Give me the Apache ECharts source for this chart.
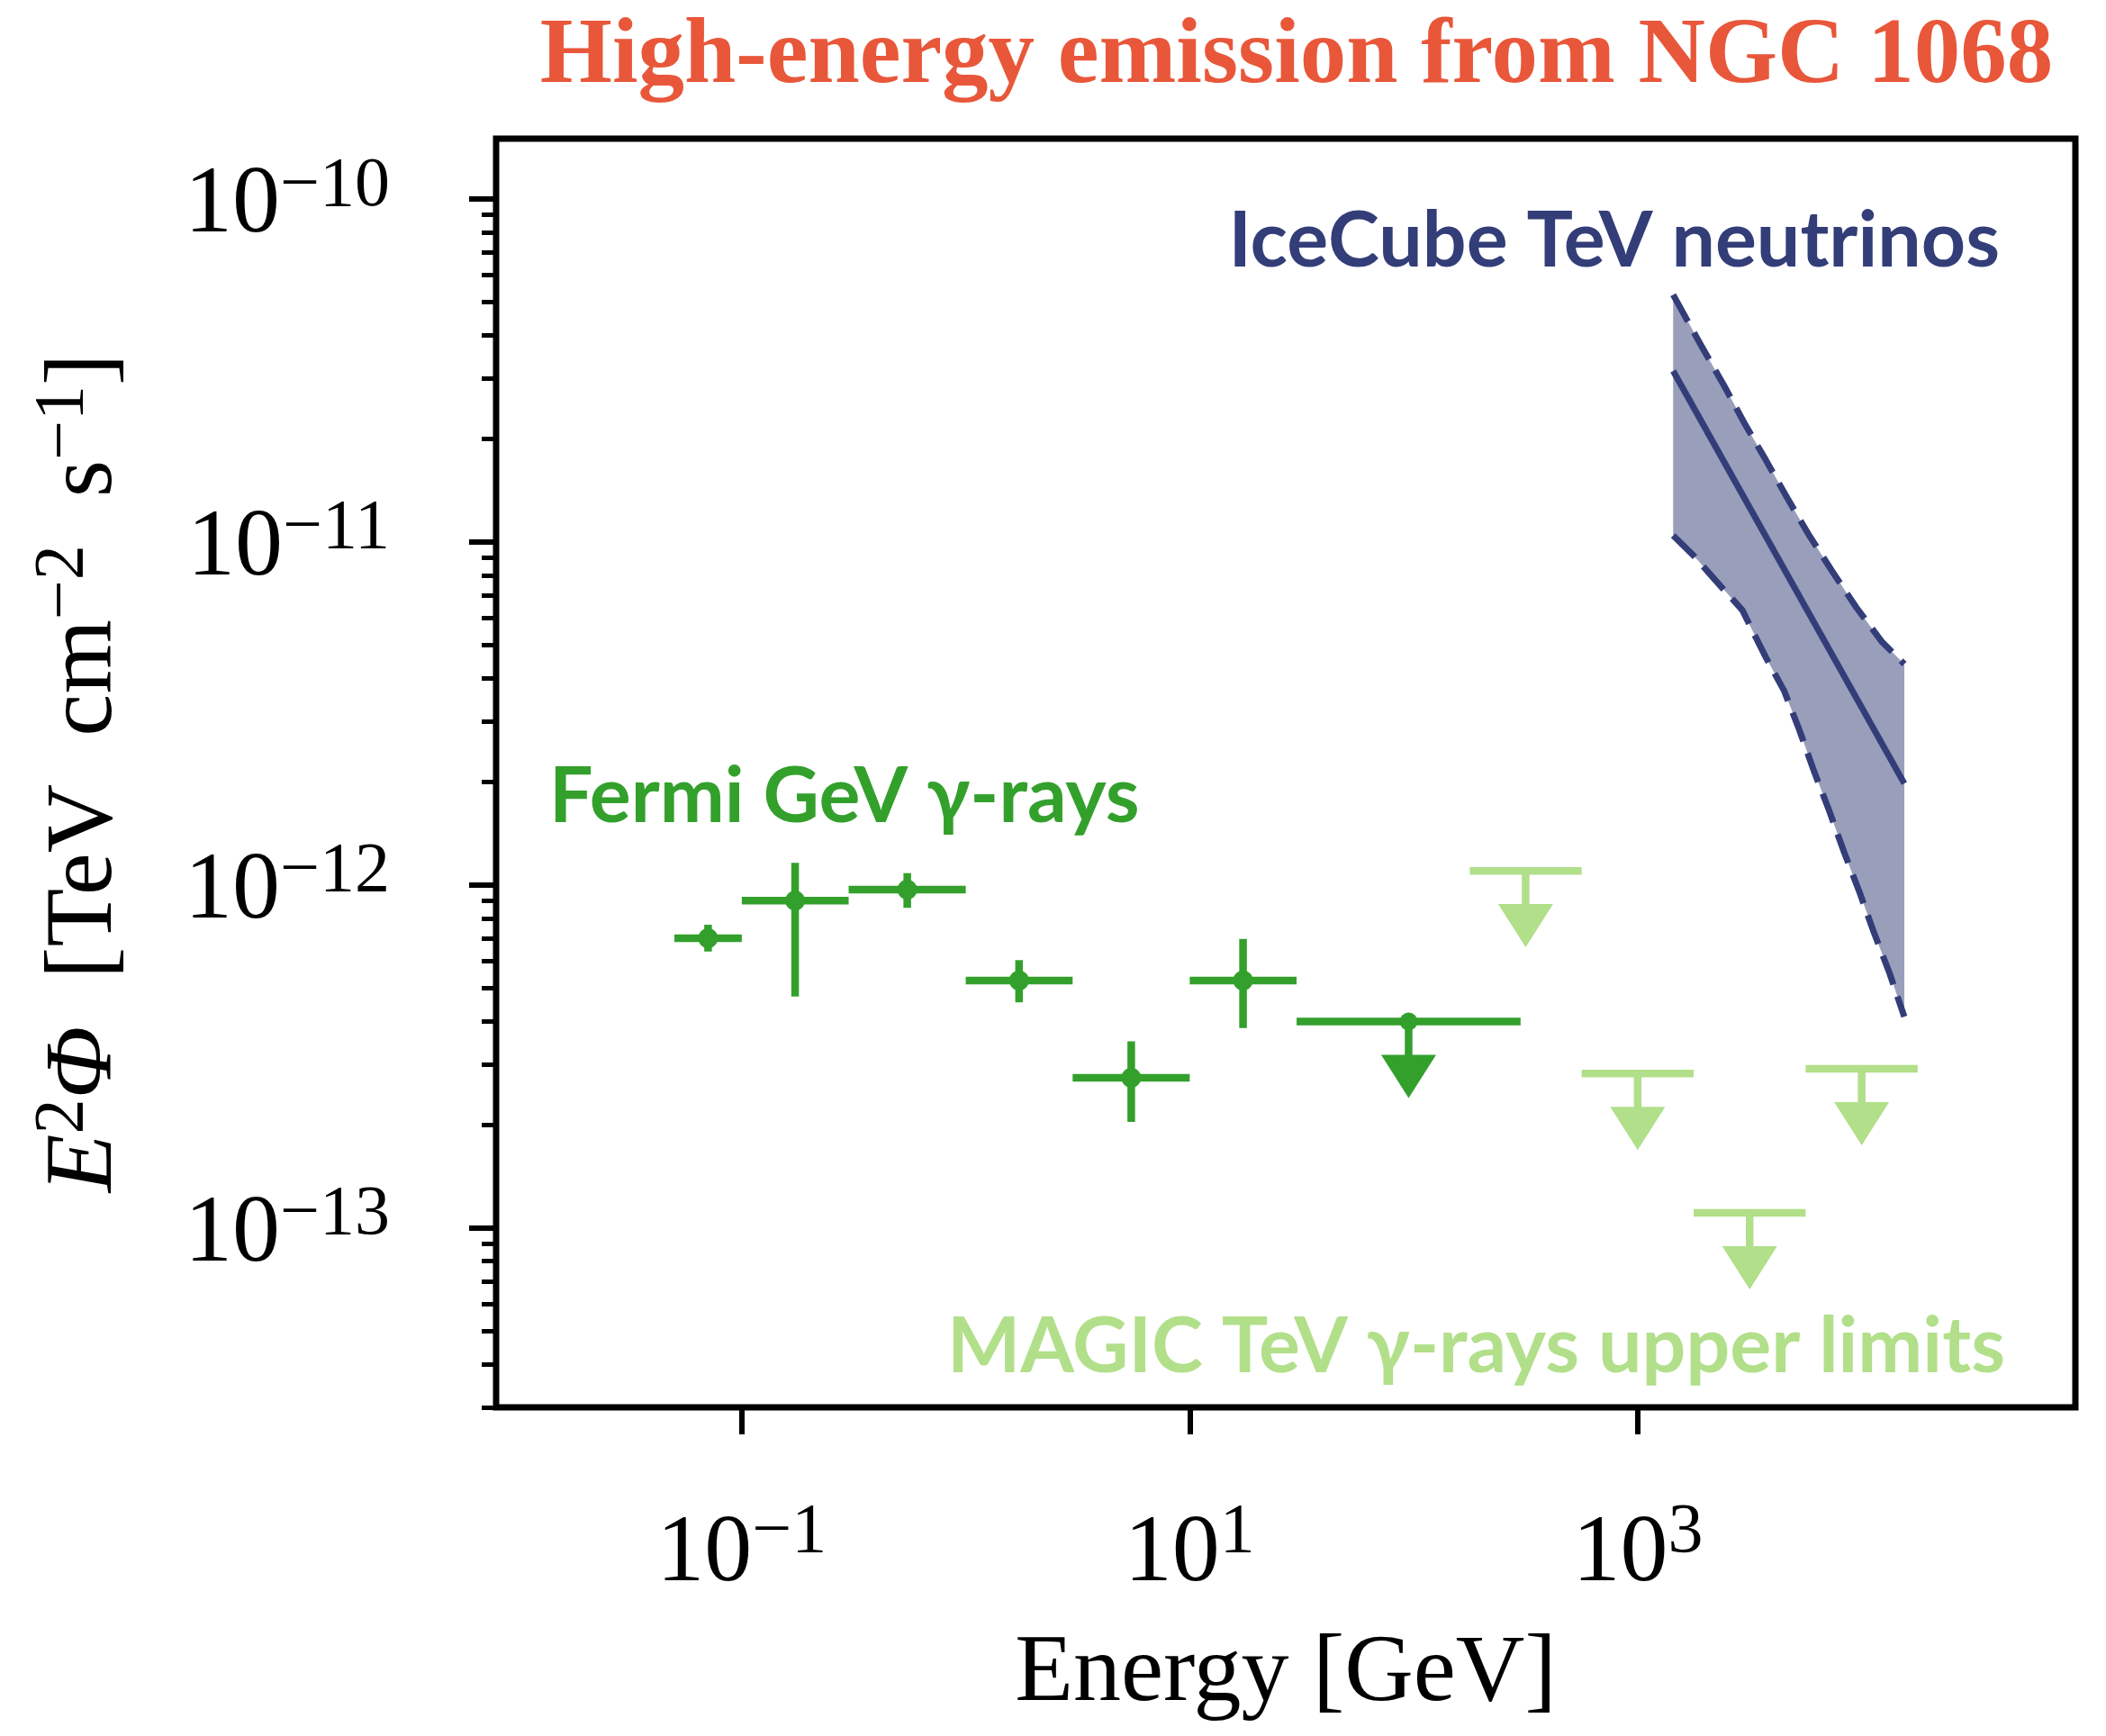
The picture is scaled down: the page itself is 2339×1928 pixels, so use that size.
<!DOCTYPE html>
<html>
<head>
<meta charset="utf-8">
<script src="https://cdn.jsdelivr.net/npm/echarts@6/dist/echarts.min.js"></script>
<style>
  html, body { margin: 0; padding: 0; background: #ffffff; }
  #chart { width: 2339px; height: 1928px; }
</style>
</head>
<body>
<div id="chart"></div>
<script>
// ---- Fermi-LAT GeV gamma-ray points: energy bins in GeV, E^2 flux in TeV cm^-2 s^-1
const fermiEnergy     = [0.0707, 0.173, 0.548, 1.73, 5.48, 17.3];
const fermiEnergyLow  = [0.05, 0.1, 0.3, 1, 3, 10];
const fermiEnergyHigh = [0.1, 0.3, 1, 3, 10, 30];
const fermiFlux       = [7.0e-13, 9.0e-13, 9.7e-13, 5.27e-13, 2.74e-13, 5.27e-13];
const fermiFluxLow    = [6.4e-13, 4.73e-13, 8.58e-13, 4.55e-13, 2.04e-13, 3.83e-13];
const fermiFluxHigh   = [7.66e-13, 1.16e-12, 1.083e-12, 6.04e-13, 3.5e-13, 6.97e-13];

// ---- Fermi-LAT upper limit in the last bin
const fermiLimitEnergy     = [94.9];
const fermiLimitEnergyLow  = [30];
const fermiLimitEnergyHigh = [300];
const fermiLimitFlux       = [4.0e-13];

// ---- MAGIC TeV gamma-ray upper limits
const magicEnergy     = [316, 1000, 3162, 10000];
const magicEnergyLow  = [178, 562, 1778, 5623];
const magicEnergyHigh = [562, 1778, 5623, 17783];
const magicFlux       = [1.10e-12, 2.82e-13, 1.107e-13, 2.91e-13];

// arrow shaft of an upper limit reaches down to (1 - drop) x limit
const upperLimitDrop = 0.2;

// ---- IceCube neutrino spectrum: best fit and the edges of its uncertainty band
const icecubeBestEnergy  = [1440, 15500];
const icecubeBestFlux    = [3.155e-11, 1.977e-12];
const icecubeUpperEnergy = [1440, 1903, 2437, 3020, 3748, 4653, 5771, 7385, 9443, 12280, 15500];
const icecubeUpperFlux   = [5.26e-11, 3.78e-11, 2.85e-11, 2.20e-11, 1.727e-11, 1.344e-11,
                            1.057e-11, 8.22e-12, 6.46e-12, 5.13e-12, 4.41e-12];
const icecubeLowerEnergy = [1440, 1789, 2222, 2932, 3166, 3748, 4510, 5262, 6139, 7155,
                            8350, 9743, 11360, 13260, 15500];
const icecubeLowerFlux   = [1.045e-11, 9.09e-12, 7.74e-12, 6.33e-12, 5.72e-12, 4.59e-12,
                            3.68e-12, 2.84e-12, 2.14e-12, 1.65e-12, 1.246e-12, 9.6e-13,
                            7.25e-13, 5.58e-13, 4.13e-13];

// ---- axis ranges and decade ticks
const energyRange = [8e-3, 9e4];
const fluxRange   = [3e-14, 1.5e-10];
const energyTickExponents = [-1, 1, 3];
const fluxTickExponents   = [-13, -12, -11, -10];

// ---------------------------------------------------------------------------
const lg = Math.log10;
const GREEN = '#33a02c';
const LIGHT_GREEN = '#b2df8a';
const NAVY = '#333d78';
const SERIF = '"Liberation Serif", "DejaVu Serif", serif';
const SANS = 'Lato, "Open Sans", sans-serif';
const BAR_WIDTH = 8.5;
const EN_SPACE = '\u2002';

// minor ticks at 2..9 x 10^n inside the flux range
const fluxMinorTicks = [];
for (let n = -15; n <= -10; n++) {
  for (let k = 2; k <= 9; k++) {
    const v = lg(k) + n;
    if (v >= lg(fluxRange[0]) - 1e-9 && v <= lg(fluxRange[1])) fluxMinorTicks.push(v);
  }
}

const supLabel = function (v) {
  const e = Math.round(v);
  return '{b|10}{s|' + (e < 0 ? '\u2212' + Math.abs(e) : String(e)) + '}';
};
const xTickRich = {
  b: { fontFamily: SERIF, fontSize: 106, lineHeight: 126, color: '#000' },
  s: { fontFamily: SERIF, fontSize: 78, lineHeight: 70, verticalAlign: 'top', color: '#000' }
};
const yTickRich = {
  b: { fontFamily: SERIF, fontSize: 106, lineHeight: 126, padding: [16, 0, 0, 0], color: '#000' },
  s: { fontFamily: SERIF, fontSize: 78, lineHeight: 70, padding: [10, 0, 0, 0], verticalAlign: 'top', color: '#000' }
};

const fermiData = fermiEnergy.map((e, i) => [
  lg(e), lg(fermiFlux[i]), lg(fermiEnergyLow[i]), lg(fermiEnergyHigh[i]),
  lg(fermiFluxLow[i]), lg(fermiFluxHigh[i])
]);
const fermiLimitData = fermiLimitEnergy.map((e, i) => [
  lg(e), lg(fermiLimitFlux[i]), lg(fermiLimitEnergyLow[i]), lg(fermiLimitEnergyHigh[i]),
  lg(fermiLimitFlux[i] * (1 - upperLimitDrop))
]);
const magicData = magicEnergy.map((e, i) => [
  lg(e), lg(magicFlux[i]), lg(magicEnergyLow[i]), lg(magicEnergyHigh[i]),
  lg(magicFlux[i] * (1 - upperLimitDrop))
]);
const toPairs = (xs, ys) => xs.map((x, i) => [lg(x), lg(ys[i])]);

function renderErrorPoint(params, api) {
  const c  = api.coord([api.value(0), api.value(1)]);
  const l  = api.coord([api.value(2), api.value(1)]);
  const r  = api.coord([api.value(3), api.value(1)]);
  const lo = api.coord([api.value(0), api.value(4)]);
  const hi = api.coord([api.value(0), api.value(5)]);
  const st = { stroke: GREEN, lineWidth: BAR_WIDTH, lineCap: 'butt' };
  return {
    type: 'group',
    children: [
      { type: 'line', shape: { x1: l[0], y1: l[1], x2: r[0], y2: r[1] }, style: st },
      { type: 'line', shape: { x1: lo[0], y1: lo[1], x2: hi[0], y2: hi[1] }, style: st },
      { type: 'circle', shape: { cx: c[0], cy: c[1], r: 11 }, style: { fill: GREEN } }
    ]
  };
}

function makeLimitRenderer(color, withDot) {
  return function (params, api) {
    const c = api.coord([api.value(0), api.value(1)]);
    const l = api.coord([api.value(2), api.value(1)]);
    const r = api.coord([api.value(3), api.value(1)]);
    const b = api.coord([api.value(0), api.value(4)]);
    const st = { stroke: color, lineWidth: BAR_WIDTH, lineCap: 'butt' };
    const headW = 61, headH = 48;
    const children = [
      { type: 'line', shape: { x1: l[0], y1: l[1], x2: r[0], y2: r[1] }, style: st },
      { type: 'line', shape: { x1: c[0], y1: c[1], x2: b[0], y2: b[1] + 2 }, style: st },
      { type: 'polygon',
        shape: { points: [[b[0] - headW / 2, b[1]], [b[0] + headW / 2, b[1]], [b[0], b[1] + headH]] },
        style: { fill: color } }
    ];
    if (withDot) {
      children.push({ type: 'circle', shape: { cx: c[0], cy: c[1], r: 10 }, style: { fill: color } });
    }
    return { type: 'group', children: children };
  };
}

const upperPairs = toPairs(icecubeUpperEnergy, icecubeUpperFlux);
const lowerPairs = toPairs(icecubeLowerEnergy, icecubeLowerFlux);

function renderBand(params, api) {
  if (params.dataIndex !== 0) return null;
  const pts = upperPairs.map(p => api.coord(p))
    .concat(lowerPairs.slice().reverse().map(p => api.coord(p)));
  return { type: 'polygon', shape: { points: pts }, style: { fill: 'rgba(51,61,120,0.5)' } };
}

const chart = echarts.init(document.getElementById('chart'), null, { renderer: 'canvas' });

chart.setOption({
  animation: false,
  backgroundColor: '#ffffff',
  grid: {
    left: 551, right: 34, top: 154, bottom: 360,
    show: true, borderColor: '#000', borderWidth: 7, backgroundColor: 'transparent'
  },
  xAxis: {
    type: 'value',
    min: lg(energyRange[0]), max: lg(energyRange[1]),
    axisLine: { show: false, onZero: false },
    splitLine: { show: false },
    axisTick: { show: true, inside: false, length: 30, customValues: energyTickExponents,
                lineStyle: { color: '#000', width: 6 } },
    axisLabel: { customValues: energyTickExponents, margin: 101, formatter: supLabel, rich: xTickRich },
    name: 'Energy [GeV]',
    nameLocation: 'middle',
    nameGap: 234,
    nameTextStyle: { fontFamily: SERIF, fontSize: 106, lineHeight: 126, color: '#000' }
  },
  yAxis: [
    {
      type: 'value',
      position: 'left',
      min: lg(fluxRange[0]), max: lg(fluxRange[1]),
      axisLine: { show: false, onZero: false },
      splitLine: { show: false },
      axisTick: { show: true, inside: false, length: 30, customValues: fluxTickExponents,
                  lineStyle: { color: '#000', width: 6 } },
      axisLabel: { customValues: fluxTickExponents, margin: 118, formatter: supLabel, rich: yTickRich },
      name: '{i|E}{s|2}{i|\u03A6}' + EN_SPACE + '[TeV' + EN_SPACE + 'cm{s|\u22122}' + EN_SPACE + 's{s|\u22121}]',
      nameLocation: 'middle',
      nameGap: 393,
      nameTextStyle: {
        fontFamily: SERIF, fontSize: 106, lineHeight: 126, color: '#000',
        rich: {
          i: { fontFamily: SERIF, fontSize: 106, lineHeight: 126, fontStyle: 'italic', color: '#000' },
          s: { fontFamily: SERIF, fontSize: 78, lineHeight: 70, verticalAlign: 'top', color: '#000' }
        }
      }
    },
    {
      // minor decade subdivisions
      type: 'value',
      position: 'left',
      min: lg(fluxRange[0]), max: lg(fluxRange[1]),
      axisLine: { show: false, onZero: false },
      splitLine: { show: false },
      axisLabel: { show: false },
      axisTick: { show: true, inside: false, length: 16, customValues: fluxMinorTicks,
                  lineStyle: { color: '#000', width: 5 } }
    }
  ],
  series: [
    {
      name: 'IceCube band',
      type: 'custom',
      renderItem: renderBand,
      data: upperPairs,
      encode: { x: 0, y: 1 },
      z: 1
    },
    {
      name: 'IceCube upper',
      type: 'line',
      data: upperPairs,
      showSymbol: false,
      lineStyle: { color: NAVY, width: 7, type: [34, 14], cap: 'butt' },
      z: 2
    },
    {
      name: 'IceCube lower',
      type: 'line',
      data: lowerPairs,
      showSymbol: false,
      lineStyle: { color: NAVY, width: 7, type: [34, 14], cap: 'butt' },
      z: 2
    },
    {
      name: 'IceCube best fit',
      type: 'line',
      data: toPairs(icecubeBestEnergy, icecubeBestFlux),
      showSymbol: false,
      lineStyle: { color: NAVY, width: 7, type: 'solid' },
      z: 2
    },
    {
      name: 'Fermi',
      type: 'custom',
      renderItem: renderErrorPoint,
      data: fermiData,
      encode: { x: 0, y: 1 },
      z: 3
    },
    {
      name: 'Fermi limit',
      type: 'custom',
      renderItem: makeLimitRenderer(GREEN, true),
      data: fermiLimitData,
      encode: { x: 0, y: 1 },
      z: 3
    },
    {
      name: 'MAGIC limits',
      type: 'custom',
      renderItem: makeLimitRenderer(LIGHT_GREEN, false),
      data: magicData,
      encode: { x: 0, y: 1 },
      z: 3
    }
  ],
  graphic: [
    {
      type: 'text', x: 1440, y: 64, z: 10,
      style: { text: 'High-energy emission from NGC 1068', font: 'bold 103px ' + SERIF,
               fill: '#e8573a', align: 'center', verticalAlign: 'middle',
               textAlign: 'center', textVerticalAlign: 'middle' }
    },
    {
      type: 'text', x: 2221, y: 268, z: 10,
      style: { text: 'IceCube TeV neutrinos', font: 'bold 86px ' + SANS,
               fill: NAVY, align: 'right', verticalAlign: 'middle',
               textAlign: 'right', textVerticalAlign: 'middle' }
    },
    {
      type: 'text', x: 610, y: 885, z: 10,
      style: { text: 'Fermi GeV \u03B3-rays', font: 'bold 86px ' + SANS,
               fill: GREEN, align: 'left', verticalAlign: 'middle',
               textAlign: 'left', textVerticalAlign: 'middle' }
    },
    {
      type: 'text', x: 2227, y: 1496, z: 10,
      style: { text: 'MAGIC TeV \u03B3-rays upper limits', font: 'bold 86px ' + SANS,
               fill: LIGHT_GREEN, align: 'right', verticalAlign: 'middle',
               textAlign: 'right', textVerticalAlign: 'middle' }
    }
  ]
});
</script>
</body>
</html>
